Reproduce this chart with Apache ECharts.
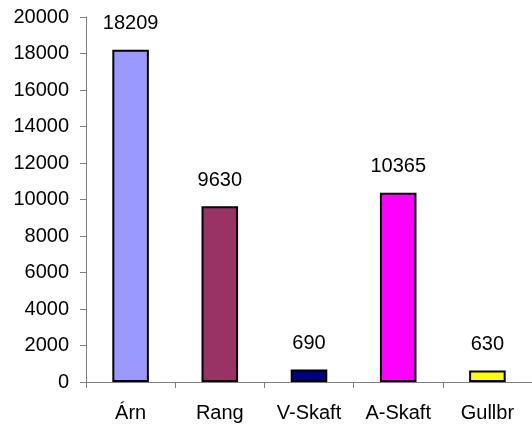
<!DOCTYPE html>
<html><head><meta charset="utf-8">
<script src="https://cdn.jsdelivr.net/npm/echarts@6/dist/echarts.min.js"></script>
<style>html,body{margin:0;padding:0;background:#fff}#c{width:532px;height:428px}</style>
</head><body><div id="c"></div>
<script>
const categories = ['Árn', 'Rang', 'V-Skaft', 'A-Skaft', 'Gullbr'];
const values = [18209, 9630, 690, 10365, 630];
const colors = ['#9999FF', '#993366', '#000080', '#FF00FF', '#FFFF00'];
const yMin = 0, yMax = 20000, yInterval = 2000;

const chart = echarts.init(document.getElementById('c'), null, {renderer: 'canvas'});
const font = '"Liberation Sans", Arial, sans-serif';
chart.setOption({
  animation: false,
  grid: {left: 86, right: -4, top: 17, bottom: 46, containLabel: false},
  xAxis: {
    type: 'category', data: categories, boundaryGap: true,
    axisLine: {lineStyle: {color: '#808080', width: 1}},
    axisTick: {show: true, alignWithLabel: false, length: 6, lineStyle: {color: '#808080'}},
    axisLabel: {color: '#000', fontSize: 20, fontFamily: font, margin: 21}
  },
  yAxis: {
    type: 'value', min: yMin, max: yMax, interval: yInterval,
    axisLine: {show: true, lineStyle: {color: '#808080', width: 1}},
    axisTick: {show: true, length: 6, lineStyle: {color: '#808080'}},
    splitLine: {show: false},
    axisLabel: {color: '#000', fontSize: 20, fontFamily: font, margin: 17, formatter: v => String(v)}
  },
  series: [{
    type: 'bar', barWidth: '41%',
    data: values.map((v, i) => ({value: v, itemStyle: {color: colors[i]}})),
    itemStyle: {borderColor: '#000', borderWidth: 2},
    label: {show: true, position: 'top', distance: 16, color: '#000', fontSize: 20, fontFamily: font}
  }]
});
</script></body></html>
